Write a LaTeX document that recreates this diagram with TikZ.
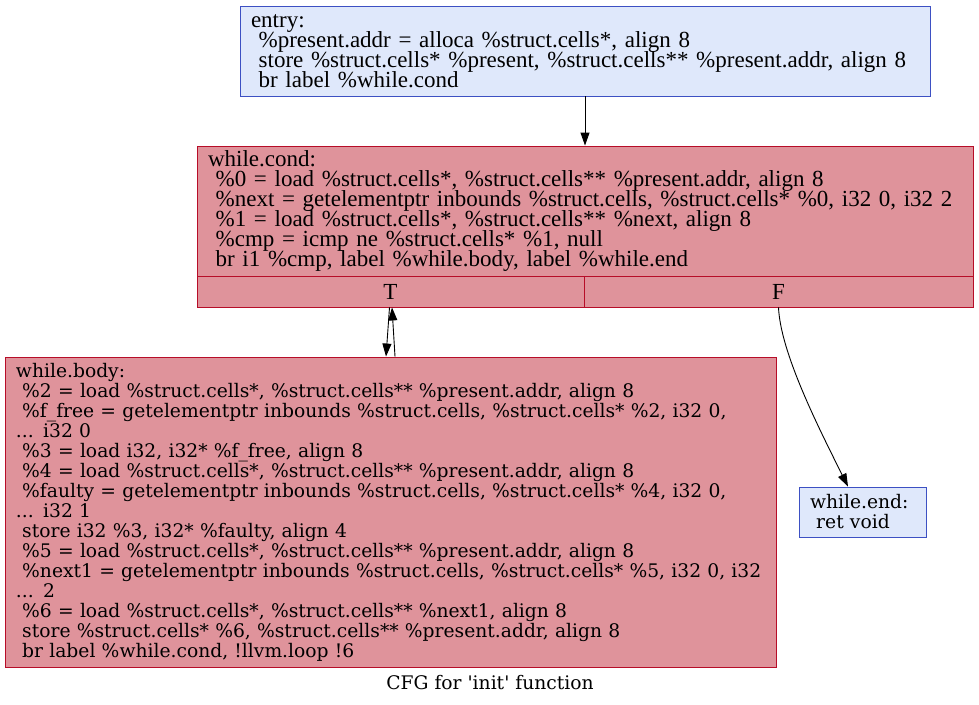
\documentclass[tikz,border=0pt]{standalone}
\usepackage{fontspec}
\setmainfont{Liberation Serif}
\newfontfamily\dvserif{DejaVu Serif}
\usetikzlibrary{arrows.meta}
\definecolor{bluefill}{HTML}{DFE8FB}
\definecolor{blueline}{HTML}{3D50C3}
\definecolor{redfill}{HTML}{DF939B}
\definecolor{redline}{HTML}{B70D28}
\newcommand{\irfont}{\fontsize{23}{20}\selectfont\lineskiplimit=-100pt}
\newcommand{\dvfont}{\dvserif\fontsize{18.7}{20}\selectfont\lineskiplimit=-100pt}
\begin{document}
\begin{tikzpicture}[x=1pt,y=1pt,
  block/.style={rectangle, draw, line width=0.9pt, inner xsep=11pt, inner ysep=0pt, align=left, font=\irfont},
  blueblock/.style={block, fill=bluefill, draw=blueline},
  redblock/.style={block, fill=redfill, draw=redline},
  dvblock/.style={font=\dvfont},
  port/.style={rectangle, draw=redline, line width=0.9pt, fill=redfill, inner sep=0pt, font=\irfont},
  edge/.style={-{Triangle[length=13pt,width=9pt]}, line width=0.9pt, black}]
  \useasboundingbox (0,0) rectangle (979,-704);

  % blocks
  \node [blueblock, text width=668pt, minimum height=90pt] (entry) at (585,-51)
    {entry:\\
     \ \%present.addr = alloca \%struct.cells*, align 8\\
     \ store \%struct.cells* \%present, \%struct.cells** \%present.addr, align 8\\
     \ br label \%while.cond};

  \node [redblock, text width=754pt, minimum height=130pt] (cond) at (585,-211)
    {while.cond:\\
     \ \%0 = load \%struct.cells*, \%struct.cells** \%present.addr, align 8\\
     \ \%next = getelementptr inbounds \%struct.cells, \%struct.cells* \%0, i32 0, i32 2\\
     \ \%1 = load \%struct.cells*, \%struct.cells** \%next, align 8\\
     \ \%cmp = icmp ne \%struct.cells* \%1, null\\
     \ br i1 \%cmp, label \%while.body, label \%while.end};
  \node [port, minimum width=387pt, minimum height=31pt] (condT) at (390.5,-291.5) {T};
  \node [port, minimum width=389pt, minimum height=31pt] (condF) at (778.5,-291.5) {F};

  \node [redblock, dvblock, text width=749pt, minimum height=310pt] (body) at (390.5,-512)
    {while.body:\\
     \ \%2 = load \%struct.cells*, \%struct.cells** \%present.addr, align 8\\
     \ \%f\_free = getelementptr inbounds \%struct.cells, \%struct.cells* \%2, i32 0,\\
     ... i32 0\\
     \ \%3 = load i32, i32* \%f\_free, align 8\\
     \ \%4 = load \%struct.cells*, \%struct.cells** \%present.addr, align 8\\
     \ \%faulty = getelementptr inbounds \%struct.cells, \%struct.cells* \%4, i32 0,\\
     ... i32 1\\
     \ store i32 \%3, i32* \%faulty, align 4\\
     \ \%5 = load \%struct.cells*, \%struct.cells** \%present.addr, align 8\\
     \ \%next1 = getelementptr inbounds \%struct.cells, \%struct.cells* \%5, i32 0, i32\\
     ... 2\\
     \ \%6 = load \%struct.cells*, \%struct.cells** \%next1, align 8\\
     \ store \%struct.cells* \%6, \%struct.cells** \%present.addr, align 8\\
     \ br label \%while.cond, !llvm.loop !6};

  \node [blueblock, dvblock, text width=105pt, minimum height=50pt] (wend) at (862.5,-512)
    {while.end:\\
     \ ret void};

  \node [font=\dvfont] (caption) at (490,-683) {CFG for 'init' function};

  % edges
  \draw [edge] (entry.south) -- (cond.north);
  \draw [edge] ([xshift=-1pt]condT.south) -- ([xshift=-4.5pt]body.north);
  \draw [edge] ([xshift=4.5pt]body.north) -- ([xshift=1.5pt]condT.south);
  \draw [edge] (condF.south) .. controls +(2,-45) and +(-30,60) .. ([xshift=-14.5pt]wend.north);
\end{tikzpicture}
\end{document}
